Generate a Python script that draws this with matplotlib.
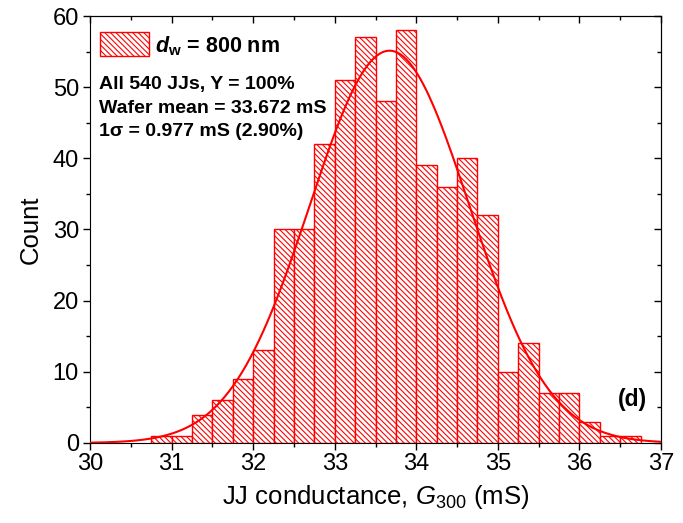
import numpy as np
import matplotlib
matplotlib.use("Agg")
import matplotlib.pyplot as plt
from matplotlib.ticker import MultipleLocator

plt.rcParams['font.family'] = ['Liberation Sans', 'DejaVu Sans']
plt.rcParams['mathtext.fontset'] = 'custom'
plt.rcParams['mathtext.rm'] = 'Liberation Sans'
plt.rcParams['mathtext.it'] = 'Liberation Sans:italic'
plt.rcParams['mathtext.bf'] = 'Liberation Sans:bold'
plt.rcParams['mathtext.bfit'] = 'Liberation Sans:italic:bold'
plt.rcParams['hatch.linewidth'] = 0.8
plt.rcParams['hatch.color'] = 'red'

# histogram (bin width 0.25 mS)
bin_left = [30.75, 31.0, 31.25, 31.5, 31.75, 32.0, 32.25, 32.5, 32.75, 33.0,
            33.25, 33.5, 33.75, 34.0, 34.25, 34.5, 34.75, 35.0, 35.25, 35.5,
            35.75, 36.0, 36.25, 36.5]
counts = [1, 1, 4, 6, 9, 13, 30, 30, 42, 51,
          57, 48, 58, 39, 36, 40, 32, 10, 14, 7,
          7, 3, 1, 1]
bin_w = 0.25

# gaussian fit from the stated numbers
n_jj = 540
g_mean = 33.672
g_sigma = 0.977

fig = plt.figure(figsize=(6.83, 5.23), dpi=100)
ax = fig.add_axes([0.1318, 0.153, 0.836, 0.8164])

ax.bar(bin_left, counts, width=bin_w, align='edge', color='white',
       edgecolor='red', linewidth=1.0, hatch='\\\\\\\\\\\\', zorder=2)

xs = np.linspace(30, 37, 400)
amp = n_jj * bin_w / (g_sigma * np.sqrt(2 * np.pi))
ax.plot(xs, amp * np.exp(-(xs - g_mean) ** 2 / (2 * g_sigma ** 2)),
        color='red', lw=1.5, zorder=3)

ax.set_xlim(30, 37)
ax.set_ylim(0, 60)
ax.xaxis.set_major_locator(MultipleLocator(1))
ax.xaxis.set_minor_locator(MultipleLocator(0.5))
ax.yaxis.set_major_locator(MultipleLocator(10))
ax.yaxis.set_minor_locator(MultipleLocator(5))
ax.tick_params(which='major', direction='out', length=5, width=1, labelsize=17)
ax.tick_params(which='minor', direction='out', length=3, width=1)
ax.tick_params(axis='x', which='major', pad=2)
ax.tick_params(axis='y', which='major', pad=3)

# inward ticks on top and right
top = ax.secondary_xaxis('top')
top.xaxis.set_major_locator(MultipleLocator(1))
top.xaxis.set_minor_locator(MultipleLocator(0.5))
top.tick_params(which='major', direction='in', length=5, width=1, labeltop=False)
top.tick_params(which='minor', direction='in', length=3, width=1)
right = ax.secondary_yaxis('right')
right.yaxis.set_major_locator(MultipleLocator(10))
right.yaxis.set_minor_locator(MultipleLocator(5))
right.tick_params(which='major', direction='in', length=5, width=1, labelright=False)
right.tick_params(which='minor', direction='in', length=3, width=1)

ax.set_xlabel('JJ conductance, $\\mathit{G}_{\\mathrm{300}}$ (mS)', fontsize=18.5, labelpad=6)
ax.set_ylabel('Count', fontsize=18.5, labelpad=7)

# legend-like box
ax.bar([30.12], [3.35], width=0.6, bottom=54.35, align='edge', color='white',
       edgecolor='red', linewidth=1.0, hatch='\\\\\\\\\\\\', zorder=2)
ax.text(30.80, 54.9, '$\\boldsymbol{d}_\\mathbf{w}$ = 800 nm', fontsize=15.5,
        fontweight='bold', va='baseline', ha='left')
ax.text(30.11, 49.7, 'All 540 JJs, Y = 100%', fontsize=14, fontweight='bold',
        va='baseline', ha='left')
ax.text(30.11, 46.4, 'Wafer mean = 33.672 mS', fontsize=14, fontweight='bold',
        va='baseline', ha='left')
ax.text(30.11, 43.1, '1\u03c3 = 0.977 mS (2.90%)', fontsize=14, fontweight='bold',
        va='baseline', ha='left')
ax.text(36.65, 5.2, '(d)', fontsize=16.5, fontweight='bold', va='baseline', ha='center')

fig.savefig('out.png', dpi=100)
